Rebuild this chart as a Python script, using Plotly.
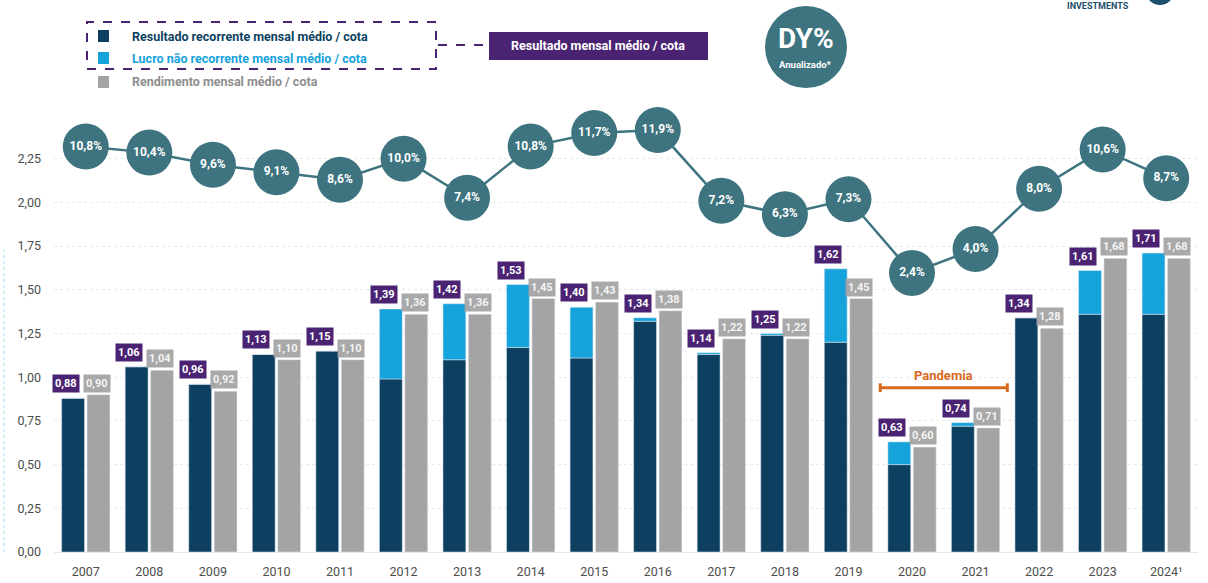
import plotly.graph_objects as go

years = ['2007', '2008', '2009', '2010', '2011', '2012', '2013', '2014', '2015',
         '2016', '2017', '2018', '2019', '2020', '2021', '2022', '2023', '2024¹']
recorrente = [0.88, 1.06, 0.96, 1.13, 1.15, 0.99, 1.10, 1.17, 1.11,
              1.32, 1.13, 1.24, 1.20, 0.50, 0.72, 1.34, 1.36, 1.36]
nao_recorrente = [0.00, 0.00, 0.00, 0.00, 0.00, 0.40, 0.32, 0.36, 0.29,
                  0.02, 0.01, 0.01, 0.42, 0.13, 0.02, 0.00, 0.25, 0.35]
resultado_total = [0.88, 1.06, 0.96, 1.13, 1.15, 1.39, 1.42, 1.53, 1.40,
                   1.34, 1.14, 1.25, 1.62, 0.63, 0.74, 1.34, 1.61, 1.71]
rendimento = [0.90, 1.04, 0.92, 1.10, 1.10, 1.36, 1.36, 1.45, 1.43,
              1.38, 1.22, 1.22, 1.45, 0.60, 0.71, 1.28, 1.68, 1.68]
dy = [10.8, 10.4, 9.6, 9.1, 8.6, 10.0, 7.4, 10.8, 11.7,
      11.9, 7.2, 6.3, 7.3, 2.4, 4.0, 8.0, 10.6, 8.7]
y_ticks = [0, 0.25, 0.5, 0.75, 1.0, 1.25, 1.5, 1.75, 2.0, 2.25]

NAVY = '#0c3f60'
LIGHT = '#16a2da'
GRAY = '#a4a4a4'
PURPLE = '#4a2372'
TEAL = '#3d7480'
ORANGE = '#d8691f'
FONT = 'Roboto'

W, H = 1208, 583
L, R, T, B = 54, 10, 115, 31


def px(x):
    return (x - L) / (W - L - R)


def py(y):
    return (H - B - y) / (H - T - B)


def br(v):
    return f'{v:.2f}'.replace('.', ',')


fig = go.Figure()
fig.add_trace(go.Bar(x=years, y=recorrente, offsetgroup='res', marker_color=NAVY,
                     name='Resultado recorrente mensal médio / cota'))
fig.add_trace(go.Bar(x=years, y=nao_recorrente, base=recorrente, offsetgroup='res',
                     marker_color=LIGHT, name='Lucro não recorrente mensal médio / cota'))
fig.add_trace(go.Bar(x=years, y=rendimento, offsetgroup='rend', marker_color=GRAY,
                     name='Rendimento mensal médio / cota'))
fig.add_trace(go.Scatter(
    x=years, y=dy, yaxis='y2', mode='lines+markers+text',
    line=dict(color=TEAL, width=2.5),
    marker=dict(size=46, color=TEAL),
    text=[f'{d:.1f}%'.replace('.', ',') for d in dy],
    textposition='middle center',
    textfont=dict(color='white', size=12, family=FONT, weight='bold'),
    cliponaxis=False, name='DY%'))

ann = []
for i, v in enumerate(rendimento):
    ann.append(dict(x=i, y=v, xref='x', yref='y', text=br(v), showarrow=False,
                    yanchor='bottom', xshift=11, yshift=2, bgcolor='rgba(160,160,160,0.9)',
                    borderpad=2, font=dict(color='#f4f4f4', size=11, family=FONT, weight='bold')))
for i, v in enumerate(resultado_total):
    ann.append(dict(x=i, y=v, xref='x', yref='y', text=br(v), showarrow=False,
                    yanchor='bottom', xshift=-20, yshift=5, bgcolor=PURPLE,
                    borderpad=2, font=dict(color='white', size=11, family=FONT, weight='bold')))

shapes = []
# pandemia bracket
shapes.append(dict(type='line', xref='x', yref='y', x0=12.5, x1=14.5, y0=0.94, y1=0.94,
                   line=dict(color=ORANGE, width=3)))
for xe in (12.5, 14.5):
    shapes.append(dict(type='line', xref='x', yref='y', x0=xe, x1=xe, y0=0.915, y1=0.965,
                       line=dict(color=ORANGE, width=3)))
ann.append(dict(x=13.5, y=1.01, xref='x', yref='y', text='Pandemia', showarrow=False,
                font=dict(color=ORANGE, size=13, family=FONT, weight='bold')))


def note(xp, yp, text, col, size, anchor='center'):
    ann.append(dict(x=px(xp), y=py(yp), xref='paper', yref='paper', text=text,
                    showarrow=False, xanchor=anchor, yanchor='middle',
                    font=dict(color=col, size=size, family=FONT, weight='bold')))


# legend
legend_items = [
    ('Resultado recorrente mensal médio / cota', NAVY, NAVY, 36),
    ('Lucro não recorrente mensal médio / cota', LIGHT, LIGHT, 58),
    ('Rendimento mensal médio / cota', '#8e8e8e', GRAY, 82),
]
for label, col, sq, yc in legend_items:
    shapes.append(dict(type='rect', xref='paper', yref='paper', x0=px(98), x1=px(109),
                       y0=py(yc + 6), y1=py(yc - 6), fillcolor=sq, line=dict(width=0)))
    note(130, yc, label, col, 12.5, 'left')
shapes.append(dict(type='rect', xref='paper', yref='paper', x0=px(87), x1=px(436),
                   y0=py(69), y1=py(22), line=dict(color=PURPLE, width=2, dash='dash')))
shapes.append(dict(type='line', xref='paper', yref='paper', x0=px(438), x1=px(489),
                   y0=py(45), y1=py(45), line=dict(color=PURPLE, width=2, dash='dash')))
shapes.append(dict(type='rect', xref='paper', yref='paper', x0=px(489), x1=px(708),
                   y0=py(60), y1=py(32), fillcolor=PURPLE, line=dict(width=0)))
note(598, 46, 'Resultado mensal médio / cota', 'white', 12.5)

# DY% badge
shapes.append(dict(type='circle', xref='paper', yref='paper', x0=px(765), x1=px(847),
                   y0=py(88), y1=py(6), fillcolor=TEAL, line=dict(width=0)))
note(806, 38, 'DY%', 'white', 28)
note(806, 64, 'Anualizado*', 'white', 9.5)

# logo fragment
shapes.append(dict(type='circle', xref='paper', yref='paper', x0=px(1146), x1=px(1174),
                   y0=py(5), y1=py(-22), fillcolor='#1d4e6b', line=dict(width=0)))
note(1098, 6, 'INVESTMENTS', '#1d4e6b', 9)

# faint dotted left rule
shapes.append(dict(type='line', xref='paper', yref='paper', x0=px(4), x1=px(4),
                   y0=py(552), y1=py(250), line=dict(color='#bfe6f2', width=1.5, dash='dot')))

fig.update_layout(
    width=W, height=H,
    margin=dict(l=L, r=R, t=T, b=B, autoexpand=False),
    paper_bgcolor='white', plot_bgcolor='white',
    barmode='group', bargap=0.2, bargroupgap=0.1,
    separators=', ',
    showlegend=False,
    font=dict(family=FONT, color='#555555'),
    xaxis=dict(type='category', range=[-0.5, 17.5], showgrid=False, ticks='',
               tickfont=dict(size=12.5, color='#4d4d4d'), ticklabelstandoff=8,
               showline=True, linecolor='#e6e6e6', linewidth=1, automargin=False),
    yaxis=dict(range=[0, 2.5], tickvals=y_ticks, tickformat='.2f', showgrid=True,
               gridcolor='#e9e9e9', griddash='dot', zeroline=False, automargin=False,
               tickfont=dict(size=12.5, color='#4d4d4d'), ticklabelstandoff=12),
    yaxis2=dict(overlaying='y', range=[-16.14, 12.9], visible=False),
    shapes=shapes,
    annotations=ann,
)

fig.write_html('out.html', config={'displayModeBar': False},
               post_script="document.body.style.margin='0';")
